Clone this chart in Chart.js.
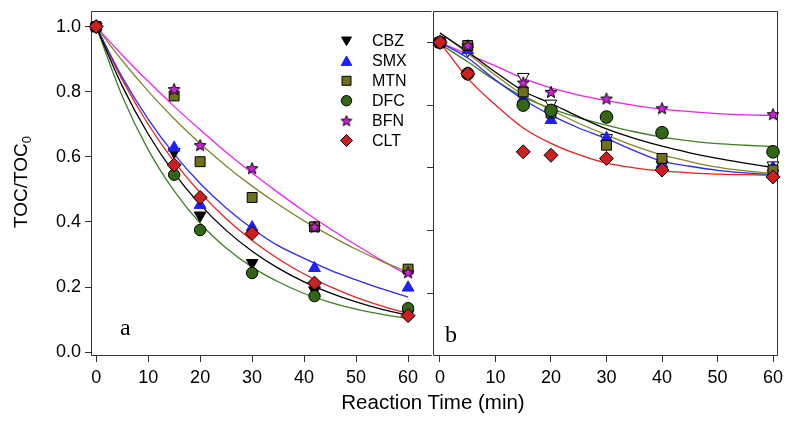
<!DOCTYPE html>
<html><head><meta charset="utf-8">
<script src="https://cdn.jsdelivr.net/npm/chart.js@4.4.1/dist/chart.umd.min.js"></script>
<style>
html,body{margin:0;padding:0;background:#fff;}
#wrap{position:relative;width:786px;height:421px;overflow:hidden;background:#fff;}
#ca{position:absolute;left:0;top:0;}
#cb{position:absolute;left:420px;top:0;}
.lbl{position:absolute;font-family:'Liberation Sans',Arial,sans-serif;color:#000;white-space:nowrap;line-height:1;}
#ytitle{left:22px;top:182px;font-size:19px;transform:translate(-50%,-50%) rotate(-90deg);}
#ytitle sub{font-size:13px;vertical-align:-4px;}
#xtitle{left:433px;top:402px;font-size:20.5px;transform:translate(-50%,-50%);}
.pl{position:absolute;font-family:'Liberation Serif','Times New Roman',serif;font-size:24px;line-height:1;color:#000;}
#pa{left:120px;top:315px;}
#pb{left:445px;top:322px;}
</style></head>
<body><div id="wrap">
<canvas id="ca" width="440" height="421"></canvas>
<canvas id="cb" width="366" height="421"></canvas>
<div class="lbl" id="ytitle">TOC/TOC<sub>0</sub></div>
<div class="lbl" id="xtitle">Reaction Time (min)</div>
<div class="pl" id="pa">a</div>
<div class="pl" id="pb">b</div>
</div>
<script>
// ---------- data ----------
const seriesNames = ['CBZ','SMX','MTN','DFC','BFN','CLT'];
const xTicks = [0,10,20,30,40,50,60];
const yTicksA = [0,0.2,0.4,0.6,0.8,1.0];
const yTicksB = [0.2,0.4,0.6,0.8,1.0];

// panel a measured points
const timeA = [0,15,20,30,42,60];
const aCBZ = [1.0,0.615,0.42,0.274,0.19,0.118];
const aSMX = [1.0,0.628,0.452,0.383,0.258,0.198];
const aMTN = [1.0,0.787,0.585,0.475,0.385,0.255];
const aDFC = [1.0,0.545,0.375,0.243,0.172,0.135];
const aBFN = [1.0,0.808,0.636,0.565,0.385,0.245];
const aCLT = [1.0,0.575,0.475,0.365,0.212,0.112];

// panel b measured points
const timeB = [0,5,15,20,30,40,60];
const bCBZ = [1.0,0.975,0.89,0.805,0.695,0.61,0.608];
const bSMX = [1.0,0.975,0.82,0.752,0.695,0.612,0.60];
const bMTN = [1.0,0.99,0.842,0.775,0.672,0.63,0.593];
const bDFC = [1.0,0.90,0.80,0.783,0.762,0.712,0.651];
const bBFN = [1.0,0.99,0.872,0.842,0.821,0.79,0.771];
const bCLT = [1.0,0.90,0.651,0.640,0.630,0.593,0.571];

// fitted curves
const timeFit = [0,5,10,15,20,25,30,35,40,45,50,55,60];
const faCBZ = [1.0,0.818,0.67,0.55,0.453,0.374,0.31,0.258,0.216,0.182,0.154,0.131,0.113];
const faSMX = [1.0,0.845,0.716,0.608,0.518,0.443,0.38,0.327,0.288,0.252,0.222,0.194,0.169];
const faMTN = [1.0,0.896,0.802,0.717,0.641,0.572,0.51,0.454,0.403,0.358,0.316,0.279,0.246];
const faDFC = [1.0,0.787,0.622,0.495,0.396,0.32,0.261,0.216,0.18,0.153,0.132,0.116,0.103];
const faBFN = [1.0,0.913,0.832,0.755,0.683,0.614,0.55,0.49,0.433,0.379,0.329,0.281,0.236];
const faCLT = [1.0,0.837,0.70,0.585,0.49,0.41,0.343,0.287,0.24,0.201,0.168,0.141,0.118];

const fbCBZ = [1.03,0.97,0.905,0.845,0.805,0.763,0.724,0.694,0.669,0.648,0.63,0.615,0.601];
const fbSMX = [1.0,0.95,0.88,0.818,0.768,0.727,0.693,0.655,0.621,0.605,0.592,0.584,0.578];
const fbMTN = [1.03,0.965,0.895,0.832,0.785,0.742,0.705,0.67,0.641,0.62,0.602,0.59,0.582];
const fbDFC = [0.995,0.938,0.878,0.826,0.789,0.76,0.736,0.715,0.698,0.686,0.677,0.672,0.668];
const fbBFN = [1.0,0.962,0.925,0.885,0.855,0.832,0.814,0.799,0.787,0.779,0.773,0.769,0.767];
const fbCLT = [1.0,0.885,0.80,0.727,0.678,0.642,0.615,0.60,0.59,0.584,0.58,0.578,0.576];

// ---------- styles ----------
const FONT = "'Liberation Sans', Arial, sans-serif";
const markFill = ['#000000','#1f1fff','#6f6f1c','#336614','#cc22dd','#cc2020'];
const markBorder = ['#000000','#1f1fff','#000000','#000000','#000000','#000000'];
const lineColor = ['#000000','#2a2aff','#84842a','#3f7f22','#ee22ee','#e82020'];

function makeStar(size, outer, inner, fill){
  const c = document.createElement('canvas');
  c.width = size; c.height = size;
  const g = c.getContext('2d');
  g.beginPath();
  for (let k=0;k<10;k++){
    const r = (k%2) ? inner : outer;
    const a = -Math.PI/2 + k*Math.PI/5;
    g.lineTo(size/2 + r*Math.cos(a), size/2 + 0.6 + r*Math.sin(a));
  }
  g.closePath();
  g.fillStyle = fill; g.fill();
  g.lineWidth = 1; g.strokeStyle = '#000'; g.stroke();
  return c;
}
const starBig = makeStar(14, 6.2, 2.7, markFill[4]);
const starLeg = makeStar(14, 5.6, 2.5, markFill[4]);

function pointStyleOf(i, panel){
  switch(i){
    case 0: return {pointStyle:'triangle', rotation:180, radius:6.8};
    case 1: return {pointStyle:'triangle', rotation:0, radius:6.8};
    case 2: return {pointStyle:'rect', rotation:0, radius:7};
    case 3: return {pointStyle:'circle', rotation:0, radius: panel==='b' ? 6.3 : 5.7};
    case 4: return {pointStyle:starBig, rotation:0, radius:7};
    case 5: return {pointStyle:'rectRot', rotation:0, radius:7};
  }
}

function buildDatasets(times, pts, fits, panel){
  const ds = [];
  fits.forEach((arr,i)=>{
    ds.push({
      label: seriesNames[i]+' fit',
      data: timeFit.map((t,k)=>({x:t,y:arr[k]})),
      showLine:true, pointRadius:0, borderColor:lineColor[i], borderWidth:1.3,
      cubicInterpolationMode:'monotone', fill:false, order:20
    });
  });
  pts.forEach((arr,i)=>{
    const ps = pointStyleOf(i, panel);
    let fill = markFill[i], border = markBorder[i];
    if (panel==='b' && i===0){ fill = '#ffffff'; border = '#000000'; }
    ds.push({
      label: seriesNames[i],
      data: times.map((t,k)=>({x:t,y:arr[k]})),
      showLine:false,
      pointStyle: ps.pointStyle, pointRotation: ps.rotation, pointRadius: ps.radius,
      pointBackgroundColor: fill, pointBorderColor: border, pointBorderWidth: 1,
      order: 6 - i, clip: false
    });
  });
  return ds;
}

function makeFrame(drawRight){
  return {
    id:'frame',
    beforeDatasetsDraw(chart){
      const {ctx, chartArea:a} = chart;
      ctx.save();
      ctx.strokeStyle = '#333'; ctx.lineWidth = 1;
      const l = Math.round(a.left)-0.5, t = Math.round(a.top)+0.5;
      const r = Math.round(a.right)-0.5, b = Math.round(a.bottom)-0.5;
      ctx.beginPath();
      ctx.moveTo(l, b); ctx.lineTo(l, t); ctx.lineTo(r, t);
      if (drawRight) ctx.lineTo(r, b);
      ctx.moveTo(l, b); ctx.lineTo(r, b);
      ctx.stroke();
      ctx.restore();
    }
  };
}

function drawLegendMarker(ctx, i, x, y){
  ctx.save();
  ctx.lineWidth = 1;
  ctx.fillStyle = markFill[i];
  ctx.strokeStyle = markBorder[i];
  ctx.beginPath();
  if (i===0){ ctx.moveTo(x-5,y-4); ctx.lineTo(x+5,y-4); ctx.lineTo(x,y+4.5); ctx.closePath(); }
  else if (i===1){ ctx.moveTo(x-5.3,y+4.5); ctx.lineTo(x+5.3,y+4.5); ctx.lineTo(x,y-5); ctx.closePath(); }
  else if (i===2){ ctx.rect(x-4.5,y-4.5,9,9); }
  else if (i===3){ ctx.arc(x,y,5.2,0,Math.PI*2); }
  else if (i===5){ ctx.moveTo(x,y-6); ctx.lineTo(x+6,y); ctx.lineTo(x,y+6); ctx.lineTo(x-6,y); ctx.closePath(); }
  if (i===4){ ctx.drawImage(starLeg, x-7, y-7); }
  else { ctx.fill(); ctx.stroke(); }
  ctx.restore();
}

const legendPlugin = {
  id:'innerLegend',
  afterDatasetsDraw(chart){
    const ctx = chart.ctx;
    ctx.save();
    ctx.font = "16px " + FONT;
    ctx.textBaseline = 'middle';
    ctx.textAlign = 'left';
    seriesNames.forEach((n,i)=>{
      const y = 41 + i*19.9;
      drawLegendMarker(ctx, i, 346.5, y);
      ctx.fillStyle = '#000';
      ctx.fillText(n, 372, y+1);
    });
    ctx.restore();
  }
};

function xScale(min, max){
  return {
    type:'linear', min, max,
    afterBuildTicks: s => { s.ticks = xTicks.map(v=>({value:v})); },
    afterFit: s => { s.height = 65; s.paddingLeft = 0; s.paddingRight = 0; },
    grid:{drawOnChartArea:false, drawTicks:true, tickLength:6, tickColor:'#333', tickWidth:1},
    border:{display:false},
    ticks:{color:'#000', font:{family:FONT, size:18}, padding:5, maxRotation:0, autoSkip:false,
           callback: v => String(v)}
  };
}

function yFit(width){
  return s => { s.width = width; s.paddingTop = 0; s.paddingBottom = 0; };
}

const baseOpts = {
  responsive:false, animation:false, devicePixelRatio:1,
  plugins:{legend:{display:false}, tooltip:{enabled:false}},
  events:[]
};

new Chart(document.getElementById('ca'), {
  type:'scatter',
  data:{datasets: buildDatasets(timeA, [aCBZ,aSMX,aMTN,aDFC,aBFN,aCLT], [faCBZ,faSMX,faMTN,faDFC,faBFN,faCLT], 'a')},
  options: Object.assign({}, baseOpts, {
    layout:{padding:{left:0,right:6,top:11,bottom:0}},
    scales:{
      x: xScale(-0.8, 64.6),
      y: {
        type:'linear', min:-0.012, max:1.048,
        afterBuildTicks: s => { s.ticks = yTicksA.map(v=>({value:v})); },
        afterFit: yFit(92),
        grid:{drawOnChartArea:false, drawTicks:true, tickLength:7, tickColor:'#333'},
        border:{display:false},
        ticks:{color:'#000', font:{family:FONT, size:18}, padding:4, callback: v => Number(v).toFixed(1)}
      }
    }
  }),
  plugins:[makeFrame(false), legendPlugin]
});

new Chart(document.getElementById('cb'), {
  type:'scatter',
  data:{datasets: buildDatasets(timeB, [bCBZ,bSMX,bMTN,bDFC,bBFN,bCLT], [fbCBZ,fbSMX,fbMTN,fbDFC,fbBFN,fbCLT], 'b')},
  options: Object.assign({}, baseOpts, {
    layout:{padding:{left:0,right:6.7,top:11,bottom:0}},
    scales:{
      x: xScale(-1.08, 60.9),
      y: {
        type:'linear', min:0, max:1.1,
        afterBuildTicks: s => { s.ticks = yTicksB.map(v=>({value:v})); },
        afterFit: yFit(14),
        grid:{drawOnChartArea:false, drawTicks:true, tickLength:7, tickColor:'#333'},
        border:{display:false},
        ticks:{display:false}
      }
    }
  }),
  plugins:[makeFrame(true)]
});
</script>
</body></html>
